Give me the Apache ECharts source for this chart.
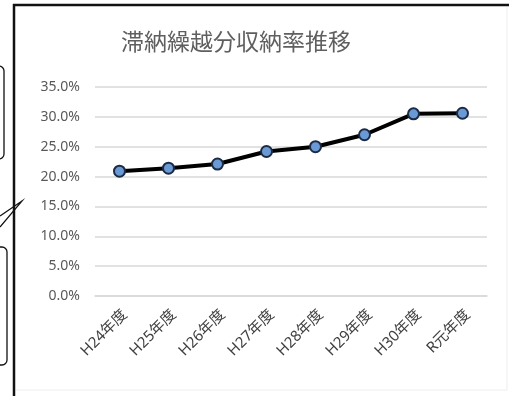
<!DOCTYPE html>
<html>
<head>
<meta charset="utf-8">
<script src="https://cdn.jsdelivr.net/npm/echarts@6/dist/echarts.min.js"></script>
<style>
  html, body { margin: 0; padding: 0; background: #ffffff; }
  #chart { width: 509px; height: 396px; }
</style>
</head>
<body>
<div id="chart"></div>
<script>
// Fiscal years (H = Heisei, R元 = Reiwa 1)
const years = ['H24年度', 'H25年度', 'H26年度', 'H27年度', 'H28年度', 'H29年度', 'H30年度', 'R元年度'];
// Collection rate of carried-over delinquent taxes (%)
const collectionRate = [20.9, 21.4, 22.1, 24.2, 25.0, 27.0, 30.5, 30.6];
// Value axis range (%)
const yMin = 0, yMax = 35, yStep = 5;

const chart = echarts.init(document.getElementById('chart'), null, { renderer: 'canvas' });

const textColor = '#595959';
const gridColor = '#d9d9d9';
const fontFamily = '"Noto Sans", "Noto Sans CJK JP", sans-serif';

chart.setOption({
  animation: false,
  backgroundColor: '#ffffff',
  title: {
    text: '滞納繰越分収納率推移',
    left: 121,
    top: 30,
    padding: 0,
    textStyle: { color: '#5f5f5f', fontSize: 23, fontWeight: 'normal', fontFamily: '"Noto Sans CJK JP", sans-serif' }
  },
  grid: { left: 95, right: 22, top: 87, bottom: 100 },
  xAxis: {
    type: 'category',
    data: years,
    axisLine: { lineStyle: { color: gridColor, width: 1.5 } },
    axisTick: { show: false },
    axisLabel: {
      rotate: 45,
      margin: 11,
      verticalAlign: 'top',
      color: '#404040',
      fontSize: 15,
      fontFamily: fontFamily
    }
  },
  yAxis: {
    type: 'value',
    min: yMin,
    max: yMax,
    interval: yStep,
    axisLine: { show: false },
    axisTick: { show: false },
    splitLine: { lineStyle: { color: gridColor, width: 1.5 } },
    axisLabel: {
      margin: 15,
      color: textColor,
      fontSize: 14,
      fontFamily: fontFamily,
      formatter: v => v.toFixed(1) + '%'
    }
  },
  series: [{
    type: 'line',
    data: collectionRate,
    symbol: 'circle',
    symbolSize: 11,
    lineStyle: { color: '#000000', width: 4 },
    itemStyle: { color: '#6a9ad6', borderColor: '#1c2b44', borderWidth: 2 },
    z: 3
  }],
  graphic: [
    // frame of the chart sheet
    { type: 'line', shape: { x1: 14, y1: 4, x2: 14, y2: 396 }, style: { stroke: '#111', lineWidth: 2.5 } },
    { type: 'line', shape: { x1: 13, y1: 5, x2: 509, y2: 5 }, style: { stroke: '#111', lineWidth: 2.5 } },
    { type: 'line', shape: { x1: 16, y1: 390, x2: 507, y2: 390 }, style: { stroke: '#eeeeee', lineWidth: 1 } },
    { type: 'line', shape: { x1: 507, y1: 7, x2: 507, y2: 390 }, style: { stroke: '#eeeeee', lineWidth: 1 } },
    // callout boxes at the left edge
    { type: 'rect', shape: { x: -20, y: 66, width: 24, height: 93, r: 5 }, style: { fill: 'none', stroke: '#111', lineWidth: 1.3 } },
    { type: 'rect', shape: { x: -20, y: 247, width: 27, height: 118, r: 5 }, style: { fill: 'none', stroke: '#111', lineWidth: 1.3 } },
    // callout pointer
    { type: 'polyline', shape: { points: [[0, 216], [22, 201], [0, 227]] }, style: { fill: 'none', stroke: '#111', lineWidth: 1.2 } }
  ]
});
</script>
</body>
</html>
